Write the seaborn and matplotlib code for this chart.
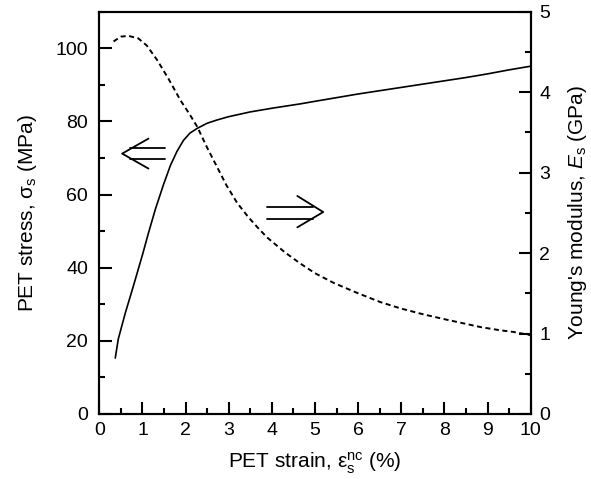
import matplotlib
matplotlib.use("Agg")
import matplotlib.pyplot as plt
from matplotlib.ticker import MultipleLocator
import seaborn as sns
import pandas as pd

# ---- data ----
strain_stress = [0.37, 0.44, 0.6, 0.79, 1.0, 1.14, 1.3, 1.49, 1.65, 1.8, 1.95, 2.1, 2.27, 2.5,
                 2.73, 3.0, 3.5, 4.0, 4.66, 5.0, 5.5, 6.0, 6.5, 7.0, 7.5, 8.0, 8.5, 9.0, 9.5, 10.0]
stress = [15.3, 20.5, 27.5, 35, 43.5, 49.5, 56.0, 62.8, 68.0, 71.8, 74.8, 76.8, 78.1, 79.5,
          80.4, 81.3, 82.6, 83.6, 84.8, 85.5, 86.5, 87.5, 88.4, 89.3, 90.2, 91.1, 92.0, 93.0, 94.1, 95.1]

strain_mod = [0.33, 0.5, 0.67, 0.9, 1.1, 1.34, 1.6, 1.88, 2.1, 2.27, 2.5, 2.73, 2.95, 3.2, 3.45,
              3.7, 3.9, 4.3, 4.66, 5.0, 5.43, 6.0, 6.52, 7.0, 7.5, 8.07, 8.5, 8.84, 9.3, 9.6, 10.0]
modulus = [4.63, 4.69, 4.70, 4.67, 4.58, 4.40, 4.17, 3.90, 3.72, 3.57, 3.31, 3.07, 2.84, 2.62, 2.45,
           2.30, 2.19, 2.01, 1.87, 1.75, 1.63, 1.50, 1.39, 1.31, 1.24, 1.17, 1.12, 1.08, 1.04, 1.02, 0.98]

# annotation arrows (left arrow points to stress axis, right arrow to modulus axis)
left_arrow_shaft_x = [0.72, 1.53]
left_arrow_shaft_y = [72.8, 69.6]
left_arrow_head_x = [1.14, 0.53, 1.14]
left_arrow_head_y = [75.3, 71.2, 67.1]

right_arrow_shaft_x = [3.89, 4.96]
right_arrow_shaft_y = [2.57, 2.42]
right_arrow_head_x = [4.59, 5.19, 4.59]
right_arrow_head_y = [2.71, 2.51, 2.32]

x_ticks = [0, 1, 2, 3, 4, 5, 6, 7, 8, 9, 10]
left_ticks = [0, 20, 40, 60, 80, 100]
right_ticks = [0, 1, 2, 3, 4, 5]

df_s = pd.DataFrame({"strain": strain_stress, "stress": stress})
df_m = pd.DataFrame({"strain": strain_mod, "modulus": modulus})

# ---- style ----
sns.set_style("ticks", {"axes.edgecolor": "black", "text.color": "black",
                        "xtick.color": "black", "ytick.color": "black",
                        "axes.labelcolor": "black"})
plt.rcParams["font.family"] = ["Liberation Sans", "DejaVu Sans"]
plt.rcParams["mathtext.fontset"] = "custom"
plt.rcParams["mathtext.rm"] = "Liberation Sans"
plt.rcParams["mathtext.it"] = "Liberation Sans:italic"
plt.rcParams["mathtext.bf"] = "Liberation Sans:bold"

fig = plt.figure(figsize=(5.91, 4.79), dpi=100)
ax = fig.add_subplot(111)
fig.subplots_adjust(left=99.3 / 591, right=530.7 / 591, top=1 - 11.7 / 479, bottom=1 - 414 / 479)
ax2 = ax.twinx()

sns.lineplot(data=df_s, x="strain", y="stress", ax=ax, color="black", lw=1.2, sort=False)
sns.lineplot(data=df_m, x="strain", y="modulus", ax=ax2, color="black", lw=1.4, sort=False,
             linestyle=(0, (2.6, 1.8)))

for yv in left_arrow_shaft_y:
    ax.plot(left_arrow_shaft_x, [yv, yv], color="black", lw=1.3)
ax.plot(left_arrow_head_x, left_arrow_head_y, color="black", lw=1.3)
for yv in right_arrow_shaft_y:
    ax2.plot(right_arrow_shaft_x, [yv, yv], color="black", lw=1.3)
ax2.plot(right_arrow_head_x, right_arrow_head_y, color="black", lw=1.3)

ax.set_xlim(0, 10)
ax.set_ylim(0, 110)
ax2.set_ylim(0, 5)

ax.set_xticks(x_ticks)
ax.set_xticklabels([str(v) for v in x_ticks])
ax.set_yticks(left_ticks)
ax.set_yticklabels([str(v) for v in left_ticks])
ax2.set_yticks(right_ticks)
ax2.set_yticklabels([str(v) for v in right_ticks])
ax.xaxis.set_minor_locator(MultipleLocator(0.5))
ax.yaxis.set_minor_locator(MultipleLocator(10))
ax2.yaxis.set_minor_locator(MultipleLocator(0.5))

for a in (ax, ax2):
    for s in a.spines.values():
        s.set_linewidth(1.5)
        s.set_color("black")
        s.set_visible(True)
    a.tick_params(which="major", direction="in", length=9, width=1.5, labelsize=14,
                  color="black", labelcolor="black")
    a.tick_params(which="minor", direction="in", length=4.5, width=1.5, color="black")
ax.tick_params(axis="x", which="both", top=False, pad=6)
ax.tick_params(axis="y", which="both", right=False, pad=8)
ax2.tick_params(axis="y", which="both", left=False, right=True, pad=6)

ax.set_xlabel(r"PET strain, $\mathregular{ε_s^{nc}}$ (%)", fontsize=15, color="black")
ax.set_ylabel(r"PET stress, $\mathregular{σ_s}$ (MPa)", fontsize=15, color="black")
ax2.set_ylabel(r"Young's modulus, $E_\mathregular{s}$ (GPa)", fontsize=15, color="black")
ax.xaxis.set_label_coords(0.5, -(463 - 414) / (414 - 11.7), transform=None) if False else None
ax.xaxis.set_label_coords(0.5, (414 - 463) / (414 - 11.7))
ax.yaxis.set_label_coords((28 - 99.3) / (530.7 - 99.3), 0.5)
ax2.yaxis.set_label_coords((577 - 99.3) / (530.7 - 99.3), 0.5)
ax.xaxis.label.set_va("center")
ax.yaxis.label.set_va("center")
ax2.yaxis.label.set_va("center")

fig.savefig("out.png", dpi=100)
